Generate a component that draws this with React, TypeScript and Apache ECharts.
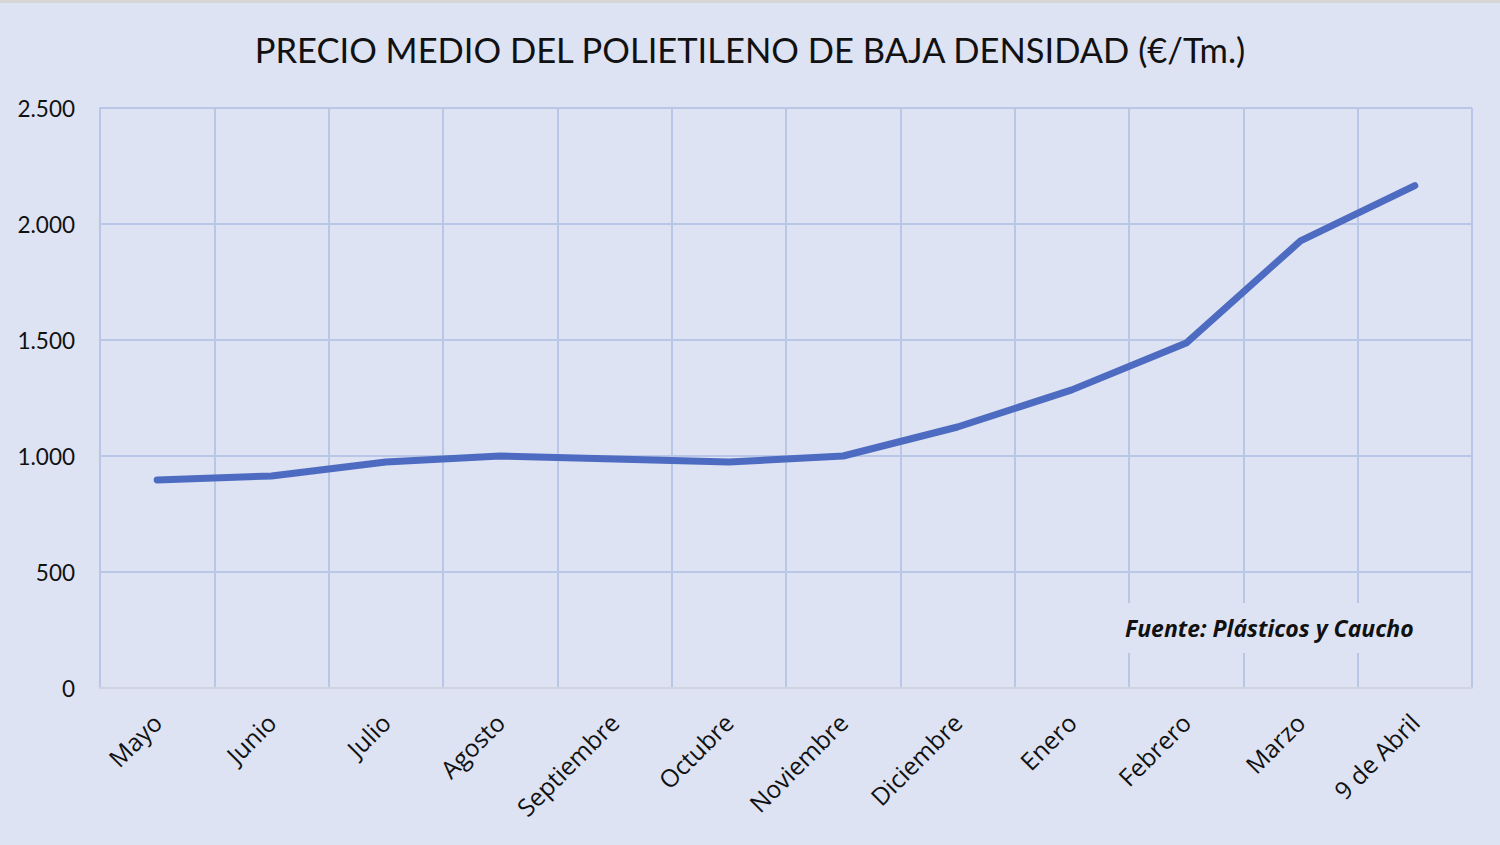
import React, { useEffect, useRef } from "react";
import * as echarts from "echarts";

const categories = [
  "Mayo", "Junio", "Julio", "Agosto", "Septiembre", "Octubre",
  "Noviembre", "Diciembre", "Enero", "Febrero", "Marzo", "9 de Abril",
];
const precios = [897, 914, 974, 1000, 987, 974, 1000, 1125, 1285, 1487, 1927, 2165];
const yTicks = { min: 0, max: 2500, interval: 500 };
const titleText = "PRECIO MEDIO DEL POLIETILENO DE BAJA DENSIDAD (€/Tm.)";
const sourceText = "Fuente: Plásticos y Caucho";

const BG = "#dde3f3";
const GRID = "#b9c6e6";
const FONT = "Lato, 'Open Sans', sans-serif";
const FONT2 = "'Open Sans', Lato, sans-serif";

export default function App() {
  const ref = useRef<HTMLDivElement>(null);
  useEffect(() => {
    document.body.style.margin = "0";
    const chart = echarts.init(ref.current!, null, { renderer: "svg" });
    chart.setOption({
      animation: false,
      backgroundColor: BG,
      title: {
        text: titleText,
        left: "center",
        top: 27,
        textStyle: { fontFamily: FONT, fontSize: 34.5, fontWeight: "normal", color: "#111" },
      },
      grid: { left: 100, right: 28, top: 108, bottom: 157 },
      xAxis: {
        type: "category",
        data: categories,
        boundaryGap: true,
        axisLine: { show: true, lineStyle: { color: "#d0d4e0", width: 2 } },
        axisTick: { show: false },
        splitLine: { show: true, interval: 0, lineStyle: { color: GRID, width: 2 } },
        axisLabel: {
          interval: 0,
          rotate: 45,
          margin: 30,
          fontFamily: FONT2,
          fontSize: 24.5,
          color: "#111",
        },
      },
      yAxis: {
        type: "value",
        min: yTicks.min,
        max: yTicks.max,
        interval: yTicks.interval,
        axisLine: { show: true, lineStyle: { color: GRID, width: 2 } },
        axisTick: { show: false },
        splitLine: { show: true, lineStyle: { color: GRID, width: 2 } },
        axisLabel: {
          margin: 25,
          fontFamily: FONT,
          fontSize: 22.5,
          color: "#111",
          formatter: (v: number) => v.toLocaleString("de-DE"),
        },
      },
      series: [
        {
          type: "line",
          data: precios,
          symbol: "none",
          lineStyle: { color: "#4e6bc2", width: 7, cap: "round", join: "round" },
          z: 3,
        },
      ],
      graphic: [
        {
          type: "rect",
          left: 0,
          top: 0,
          shape: { width: 1500, height: 3 },
          style: { fill: "#d6d6d6" },
        },
        {
          type: "text",
          left: 1115,
          top: 603,
          z: 10,
          style: {
            text: sourceText,
            fontFamily: FONT2,
            fontSize: 23,
            fontWeight: "bold",
            fontStyle: "italic",
            fill: "#111",
            backgroundColor: BG,
            padding: [13, 10, 14, 10],
          },
        },
      ],
    });
    return () => chart.dispose();
  }, []);
  return <div ref={ref} style={{ width: 1500, height: 845 }} />;
}
